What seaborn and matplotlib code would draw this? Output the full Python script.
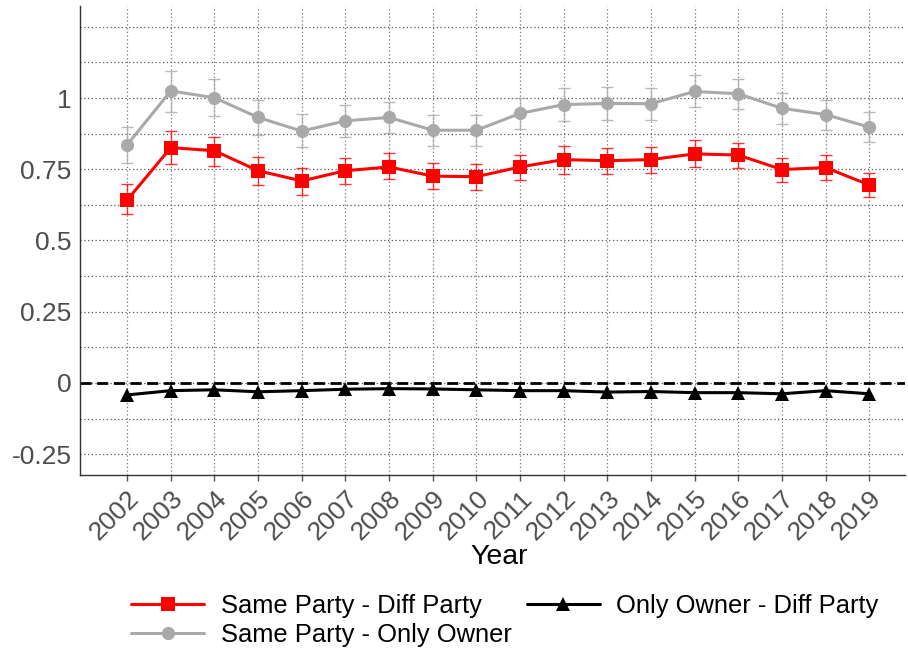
import matplotlib
matplotlib.use("Agg")
import matplotlib.pyplot as plt
import seaborn as sns
import pandas as pd
import numpy as np

years = list(range(2002, 2020))

same_diff = [0.642, 0.826, 0.815, 0.745, 0.709, 0.745, 0.758, 0.726, 0.724,
             0.758, 0.784, 0.780, 0.784, 0.804, 0.800, 0.749, 0.756, 0.695]
same_diff_lo = [0.592, 0.768, 0.760, 0.695, 0.661, 0.697, 0.715, 0.682, 0.677,
                0.713, 0.735, 0.735, 0.738, 0.758, 0.756, 0.704, 0.713, 0.654]
same_diff_hi = [0.697, 0.884, 0.865, 0.794, 0.756, 0.791, 0.806, 0.771, 0.767,
                0.801, 0.830, 0.826, 0.829, 0.851, 0.843, 0.791, 0.800, 0.738]

same_only = [0.836, 1.025, 1.001, 0.932, 0.884, 0.920, 0.932, 0.887, 0.887,
             0.946, 0.977, 0.981, 0.980, 1.023, 1.015, 0.964, 0.942, 0.898]
same_only_lo = [0.771, 0.952, 0.938, 0.870, 0.827, 0.863, 0.876, 0.833, 0.833,
                0.890, 0.919, 0.924, 0.923, 0.967, 0.960, 0.910, 0.888, 0.846]
same_only_hi = [0.900, 1.096, 1.067, 0.993, 0.943, 0.977, 0.987, 0.942, 0.942,
                1.000, 1.034, 1.037, 1.035, 1.082, 1.068, 1.018, 0.993, 0.950]

only_diff = [-0.042, -0.027, -0.024, -0.031, -0.027, -0.022, -0.020, -0.021, -0.024,
             -0.027, -0.027, -0.032, -0.030, -0.034, -0.034, -0.038, -0.027, -0.038]

series_names = ["Same Party - Diff Party", "Same Party - Only Owner", "Only Owner - Diff Party"]
colors = ["#FF0000", "#A9A9A9", "#000000"]
markers = ["s", "o", "^"]

y_ticks = [-0.25, 0, 0.25, 0.5, 0.75, 1]
y_tick_labels = ["-0.25", "0", "0.25", "0.5", "0.75", "1"]

sns.set_theme(style="white")
plt.rcParams['font.family'] = ['Liberation Sans', 'DejaVu Sans']

df = pd.DataFrame({
    "Year": years * 3,
    "value": same_diff + same_only + only_diff,
    "series": [series_names[0]] * 18 + [series_names[1]] * 18 + [series_names[2]] * 18,
})

fig = plt.figure(figsize=(9.08, 6.53), dpi=100)
ax = fig.add_axes([0.0881, 0.2726, 0.9086, 0.7182])

# grid
grid_kw = dict(color="#555555", linestyle=(0, (1, 2)), linewidth=0.9, zorder=0)
for yv in np.arange(-0.25, 1.26, 0.125):
    ax.axhline(yv, **grid_kw)
for xv in years:
    ax.axvline(xv, color="#777777", linestyle=(0, (1, 2)), linewidth=0.9, zorder=0)

ax.axhline(0, color="black", linestyle=(0, (4, 2)), linewidth=2, zorder=1)

# error bars
for vals, lo, hi, c in [(same_diff, same_diff_lo, same_diff_hi, colors[0]),
                        (same_only, same_only_lo, same_only_hi, colors[1])]:
    v = np.array(vals)
    ax.errorbar(years, v, yerr=[v - np.array(lo), np.array(hi) - v], fmt="none",
                ecolor=c, elinewidth=1.0, capsize=4.5, capthick=1.0, alpha=0.8, zorder=2)

sns.lineplot(data=df, x="Year", y="value", hue="series", style="series",
             hue_order=series_names, style_order=series_names,
             palette={n: c for n, c in zip(series_names, colors)},
             markers={n: m for n, m in zip(series_names, markers)},
             dashes=False, linewidth=2.2, markersize=9.5, markeredgewidth=0,
             ax=ax, zorder=3)

ax.set_xlim(2000.92, 2019.82)
ax.set_ylim(-0.323, 1.323)
ax.set_yticks(y_ticks)
ax.set_yticklabels(y_tick_labels)
ax.set_xticks(years)
ax.set_xticklabels([str(y) for y in years], rotation=45, ha="right", va="top",
                   rotation_mode="anchor")
ax.tick_params(axis="y", length=0, labelsize=19, labelcolor="#4D4D4D", pad=6)
ax.tick_params(axis="x", length=4, width=1, color="#555555", labelsize=19,
               labelcolor="#4D4D4D", pad=4, bottom=True)
ax.set_xlabel("Year", fontsize=20.5, color="black", labelpad=1)
ax.xaxis.set_label_coords(0.508, -0.148)
ax.set_ylabel("")

for s in ["top", "right"]:
    ax.spines[s].set_visible(False)
for s in ["left", "bottom"]:
    ax.spines[s].set_color("#333333")
    ax.spines[s].set_linewidth(1.0)

handles, labels = ax.get_legend_handles_labels()
if ax.legend_ is not None:
    ax.legend_.remove()
fig.legend(handles, labels, loc="center", bbox_to_anchor=(0.556, 0.050),
           ncol=2, frameon=False, fontsize=18.4, handlelength=2.85,
           columnspacing=0.6, handletextpad=0.65, labelspacing=0.2,
           labelcolor="black")

fig.savefig("out.png", dpi=100)
